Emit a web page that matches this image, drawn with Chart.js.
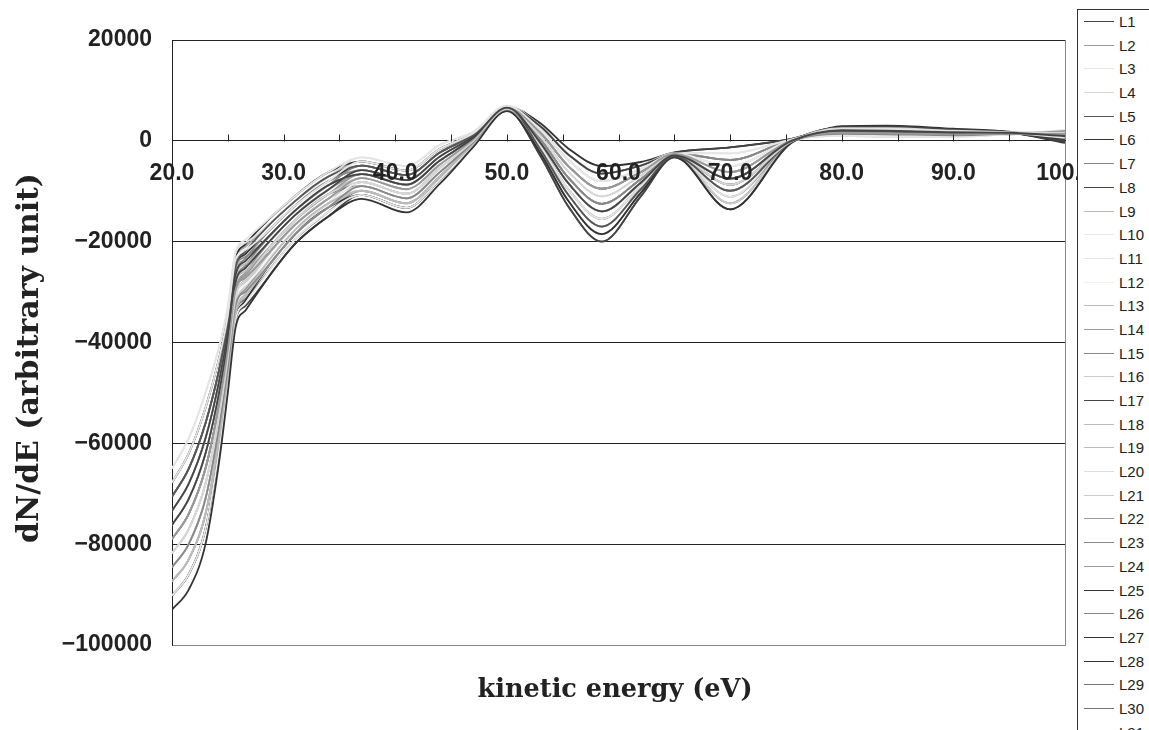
<!DOCTYPE html>
<html>
<head>
<meta charset="utf-8">
<script src="https://cdn.jsdelivr.net/npm/chart.js@4.4.0/dist/chart.umd.min.js"></script>
<style>
body { margin: 0; background: #fff; }
#wrap { position: relative; width: 1149px; height: 730px; overflow: hidden; }
#legend { position: absolute; left: 1077px; top: 9px; width: 80px; height: 740px; background: #fff;
  border-left: 1px solid #333; border-top: 1px solid #333; font: 15px "Liberation Sans", Arial, sans-serif; color: #222; }
.row { position: relative; height: 23.7px; }
.row .ln { position: absolute; left: 6px; top: 11px; width: 30px; height: 0; border-top: 1.5px solid #444; }
.row .tx { position: absolute; left: 41px; top: 3px; line-height: 17px; }
</style>
</head>
<body>
<div id="wrap">
  <canvas id="spectra"></canvas>
  <div id="legend"></div>
</div>
<script>
// kinetic energy (eV) at which each curve was read
const energy = [20, 21.5, 23, 24.2, 25, 25.7, 26.6, 31, 34, 37, 41, 44, 47, 50, 53, 55.5, 58.5, 62, 65, 70, 75.5, 80, 84, 90, 95, 100];

const L1  = [-73400,-68000,-59000,-47900,-38100,-26500,-23800,-13900,-8800,-6600,-8700,-3900,600,6600,-400,-8400,-14000,-8300,-2900,-7500,0,2100,2000,1700,1600,900];
const L2  = [-79000,-74000,-65000,-52500,-41500,-29500,-27100,-16700,-11500,-7400,-9600,-4700,300,6500,1600,-5000,-9500,-6200,-2600,-6200,100,1600,1500,1300,1400,1400];
const L3  = [-67800,-62000,-53000,-43300,-34700,-23500,-21600,-12900,-8000,-4100,-5900,-1600,1500,6900,2200,-3800,-8000,-5600,-2500,-2500,300,2300,2300,1900,1600,600];
const L4  = [-81800,-77000,-68000,-54800,-43200,-31000,-27500,-15800,-10600,-8200,-10500,-5400,0,6300,900,-6100,-11000,-6900,-2700,-8700,-100,2500,2500,2000,1700,1600];
const L5  = [-70600,-65000,-56000,-45600,-36400,-25000,-21900,-12000,-7100,-4900,-6800,-2300,1200,6800,-1700,-10700,-17000,-9600,-3100,-9900,-200,1900,1800,1500,1500,1100];
const L6  = [-93000,-89000,-80000,-64000,-50000,-37000,-33600,-20500,-15000,-11500,-14200,-8500,-1200,5900,-2400,-11900,-18500,-10300,-3200,-13600,-400,2300,2300,1900,1600,400];
const L7  = [-84600,-80000,-71000,-57100,-44900,-32500,-29900,-18600,-13200,-9000,-11400,-6200,-300,6200,300,-7300,-12500,-7600,-2800,-7500,0,1400,1300,1100,1400,1900];
const L8  = [-76200,-71000,-62000,-50200,-39800,-28000,-25200,-14800,-9700,-5800,-7800,-3100,900,6700,2900,-2700,-6500,-4900,-2400,-1300,400,2700,2800,2200,1700,100];
const L9  = [-87400,-83000,-74000,-59400,-46600,-34000,-30300,-17700,-12400,-9900,-12400,-7000,-600,6100,-400,-8400,-14000,-8300,-2900,-8700,-100,1900,1800,1500,1500,1600];
const L10 = [-90200,-86000,-77000,-61700,-48300,-35500,-32200,-19600,-14100,-10700,-13300,-7700,-900,6000,900,-6100,-11000,-6900,-2700,-5000,200,1200,1000,1000,1300,2100];
const L11 = [-65000,-59000,-50000,-41000,-33000,-22000,-19600,-11000,-6200,-3300,-5000,-800,1800,7000,-1100,-9600,-15500,-9000,-3000,-11100,-200,1000,800,800,1300,1900];
const L12 = [-81800,-77000,-68000,-54800,-43200,-31000,-28500,-17700,-12400,-8200,-10500,-5400,0,6300,2200,-3800,-8000,-5600,-2500,-5000,200,2100,2000,1700,1600,1400];
const L13 = [-73400,-68000,-59000,-47900,-38100,-26500,-24400,-14800,-9700,-5800,-7800,-3100,900,6700,300,-7300,-12500,-7600,-2800,-6200,100,1600,1500,1300,1400,900];
const L14 = [-79000,-74000,-65000,-52500,-41500,-29500,-26600,-15800,-10600,-6600,-8700,-3900,600,6600,-1100,-9600,-15500,-9000,-3000,-11100,-200,2300,2300,1900,1600,600];
const L15 = [-70600,-65000,-56000,-45600,-36400,-25000,-23000,-13900,-8800,-4900,-6800,-2300,1200,6800,1600,-5000,-9500,-6200,-2600,-3800,200,1400,1300,1100,1400,1100];
const L16 = [-84600,-80000,-71000,-57100,-44900,-32500,-28800,-16700,-11500,-9000,-11400,-6200,-300,6200,-1700,-10700,-17000,-9600,-3100,-12400,-300,2100,2000,1700,1600,1600];
const L17 = [-90200,-86000,-77000,-61700,-48300,-35500,-32700,-20500,-15000,-10700,-13300,-7700,-900,6000,-3000,-13000,-20000,-11000,-3300,-13600,-400,2500,2500,2000,1700,-200];
const L18 = [-87400,-83000,-74000,-59400,-46600,-34000,-30800,-18600,-13200,-9900,-12400,-7000,-600,6100,1600,-5000,-9500,-6200,-2600,-6200,100,1200,1000,1000,1300,1400];
const L19 = [-76200,-71000,-62000,-50200,-39800,-28000,-25800,-15800,-10600,-7400,-9600,-4700,300,6500,-400,-8400,-14000,-8300,-2900,-9900,-200,1900,1800,1500,1500,900];
const L20 = [-65000,-59000,-50000,-41000,-33000,-22000,-20200,-12000,-7100,-3300,-5000,-800,1800,7000,2900,-2700,-6500,-4900,-2400,-2500,300,1000,800,800,1300,2100];
const L21 = [-81800,-77000,-68000,-54800,-43200,-31000,-28000,-16700,-11500,-7400,-9600,-4700,300,6500,900,-6100,-11000,-6900,-2700,-7500,0,1600,1500,1300,1400,1100];
const L22 = [-79000,-74000,-65000,-52500,-41500,-29500,-26100,-14800,-9700,-6600,-8700,-3900,600,6600,-2400,-11900,-18500,-10300,-3200,-12400,-300,2500,2500,2000,1700,400];
const L23 = [-73400,-68000,-59000,-47900,-38100,-26500,-23300,-12900,-8000,-5800,-7800,-3100,900,6700,-1100,-9600,-15500,-9000,-3000,-8700,-100,2300,2300,1900,1600,600];
const L24 = [-84600,-80000,-71000,-57100,-44900,-32500,-29400,-17700,-12400,-8200,-10500,-5400,0,6300,2200,-3800,-8000,-5600,-2500,-3800,200,1400,1300,1100,1400,1600];
const L25 = [-90200,-86000,-77000,-61700,-48300,-35500,-31600,-18600,-13200,-10700,-13300,-7700,-900,6000,300,-7300,-12500,-7600,-2800,-8700,-100,2700,2800,2200,1700,-400];
const L26 = [-76200,-71000,-62000,-50200,-39800,-28000,-24700,-13900,-8800,-6600,-8700,-3900,600,6600,-1700,-10700,-17000,-9600,-3100,-9900,-200,2100,2000,1700,1600,900];
const L27 = [-70600,-65000,-56000,-45600,-36400,-25000,-22400,-12900,-8000,-4900,-6800,-2300,1200,6800,3500,-1500,-5000,-4200,-2300,-1300,400,2900,3000,2400,1800,100];
const L28 = [-67800,-62000,-53000,-43300,-34700,-23500,-20500,-11000,-6200,-4100,-5900,-1600,1500,6900,-400,-8400,-14000,-8300,-2900,-7500,0,2700,2800,2200,1700,-200];
const L29 = [-87400,-83000,-74000,-59400,-46600,-34000,-31300,-19600,-14100,-9900,-12400,-7000,-600,6100,1600,-5000,-9500,-6200,-2600,-5000,200,1600,1500,1300,1400,1400];
const L30 = [-79000,-74000,-65000,-52500,-41500,-29500,-27100,-16700,-11500,-8200,-10500,-5400,0,6300,-3000,-13000,-20000,-11000,-3300,-12400,-300,1900,1800,1500,1500,1100];
const L31 = [-81800,-77000,-68000,-54800,-43200,-31000,-27500,-15800,-10600,-9000,-11400,-6200,-300,6200,2900,-2700,-6500,-4900,-2400,-3800,200,1200,1000,1000,1300,1900];
const L32 = [-67800,-62000,-53000,-43300,-34700,-23500,-21000,-12000,-7100,-4100,-5900,-1600,1500,6900,300,-7300,-12500,-7600,-2800,-6200,100,1400,1300,1100,1400,1600];

const seriesNames = ['L1','L2','L3','L4','L5','L6','L7','L8','L9','L10','L11','L12','L13','L14','L15','L16',
  'L17','L18','L19','L20','L21','L22','L23','L24','L25','L26','L27','L28','L29','L30','L31','L32'];
const seriesValues = [L1,L2,L3,L4,L5,L6,L7,L8,L9,L10,L11,L12,L13,L14,L15,L16,
  L17,L18,L19,L20,L21,L22,L23,L24,L25,L26,L27,L28,L29,L30,L31,L32];
const seriesColors = ['#444','#999','#e6e6e6','#d6d6d6','#555','#333','#888','#444','#bbb','#e8e8e8','#e5e5e5','#f0f0f0',
  '#bbb','#999','#888','#ccc','#444','#bbb','#bbb','#ddd','#ccc','#999','#888','#999','#333','#888','#333','#333',
  '#777','#777','#666','#aaa'];

const xTickValues = [20, 30, 40, 50, 60, 70, 80, 90, 100];
const xTickMarks = [25, 30, 35, 40, 45, 50, 55, 60, 65, 70, 75, 80, 85, 90, 95];
const yTickValues = [-100000, -80000, -60000, -40000, -20000, 0, 20000];
const xTitle = 'kinetic energy (eV)';
const yTitle = 'dN/dE (arbitrary unit)';

function fitSerif(ctx, text, width) {
  ctx.font = 'bold 20px "DejaVu Serif"';
  var size = 20 * width / ctx.measureText(text).width;
  ctx.font = 'bold ' + size.toFixed(1) + 'px "DejaVu Serif"';
}

const frame = {
  id: 'frame',
  beforeDraw(chart) {
    const {ctx, chartArea: a} = chart;
    ctx.save();
    ctx.strokeStyle = '#888';
    ctx.lineWidth = 1;
    ctx.strokeRect(a.left + 0.5, a.top + 0.5, a.right - a.left, a.bottom - a.top);
    ctx.restore();
  },
  afterDraw(chart) {
    const {ctx, scales: {x, y}} = chart;
    const y0 = Math.round(y.getPixelForValue(0)) + 0.5;
    ctx.save();
    ctx.strokeStyle = '#222';
    ctx.lineWidth = 1;
    ctx.beginPath();
    xTickMarks.forEach(function (v) {
      var px = Math.round(x.getPixelForValue(v)) + 0.5;
      ctx.moveTo(px, y0);
      ctx.lineTo(px, y0 - 7);
    });
    ctx.stroke();

    ctx.fillStyle = '#222';
    ctx.textAlign = 'center';
    ctx.textBaseline = 'middle';
    fitSerif(ctx, xTitle, 275);
    ctx.fillText(xTitle, 615, 690);
    ctx.translate(30, 358);
    ctx.rotate(-Math.PI / 2);
    fitSerif(ctx, yTitle, 370);
    ctx.fillText(yTitle, 0, 0);
    ctx.restore();
  }
};

const datasets = seriesValues.map(function (vals, i) {
  return {
    label: seriesNames[i],
    data: vals.map(function (v, j) { return {x: energy[j], y: v}; }),
    borderColor: seriesColors[i],
    borderWidth: 1.8,
    pointRadius: 0,
    fill: false,
    cubicInterpolationMode: 'monotone'
  };
});

const tickFont = {family: '"Liberation Sans", Arial, sans-serif', size: 23, weight: 'bold'};

new Chart(document.getElementById('spectra'), {
  type: 'line',
  data: {datasets: datasets},
  options: {
    responsive: true,
    maintainAspectRatio: false,
    animation: false,
    layout: {padding: {left: 0, top: 40, right: 84, bottom: 85}},
    plugins: {legend: {display: false}, tooltip: {enabled: false}},
    scales: {
      x: {
        type: 'linear',
        min: 20,
        max: 100,
        position: {y: 0},
        afterBuildTicks: function (scale) { scale.ticks = xTickValues.map(function (v) { return {value: v}; }); },
        grid: {display: false},
        border: {display: true, color: '#222', width: 1},
        ticks: {
          z: 1,
          padding: 11,
          color: '#222',
          font: tickFont,
          maxRotation: 0,
          autoSkip: false,
          callback: function (v) { return Number(v).toFixed(1); }
        }
      },
      y: {
        type: 'linear',
        min: -100000,
        max: 20000,
        afterFit: function (scale) { scale.width = 172; },
        afterBuildTicks: function (scale) { scale.ticks = yTickValues.map(function (v) { return {value: v}; }); },
        grid: {
          color: function (c) { return c.tick && c.tick.value === -100000 ? '#888' : '#222'; },
          lineWidth: 1,
          drawTicks: false
        },
        border: {display: true, color: '#222', width: 1},
        ticks: {
          padding: 20,
          color: '#222',
          font: tickFont,
          callback: function (v) { return v < 0 ? '\u2212' + Math.abs(v) : String(v); }
        }
      }
    }
  },
  plugins: [frame]
});

var legendBox = document.getElementById('legend');
seriesNames.forEach(function (name, i) {
  var row = document.createElement('div');
  row.className = 'row';
  row.innerHTML = '<span class="ln" style="border-top-color:' + seriesColors[i] + '"></span><span class="tx">' + name + '</span>';
  legendBox.appendChild(row);
});
</script>
</body>
</html>
